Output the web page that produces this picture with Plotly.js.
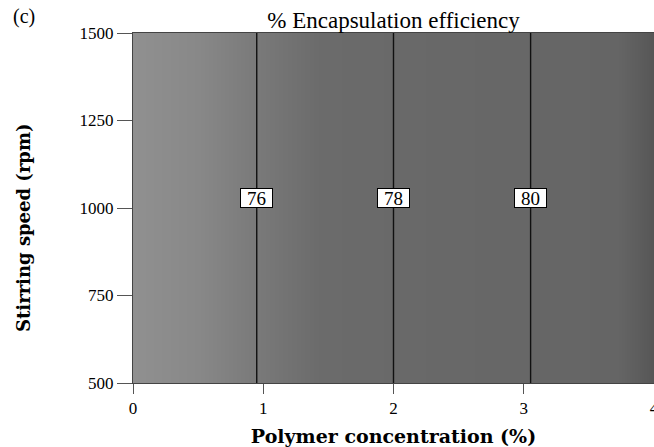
<!DOCTYPE html>
<html>
<head>
<meta charset="utf-8">
<script src="https://cdn.plot.ly/plotly-3.0.1.min.js"></script>
<style>html,body{margin:0;padding:0;background:#fff;}#chart{width:654px;height:447px;}</style>
</head>
<body>
<div id="chart"></div>
<script>
// Polymer concentration (%) grid
const polymerConc = [0, 0.5, 1, 1.5, 2, 2.5, 3, 3.5, 4];
// Stirring speed (rpm) grid
const stirringSpeed = [500, 750, 1000, 1250, 1500];
// % Encapsulation efficiency along polymer concentration (no dependence on stirring speed)
const efficiency = [74.2, 75.1, 76.1, 77.05, 78.0, 78.95, 79.9, 80.85, 81.8];
// Contour levels shown
const levels = [76, 78, 80];
const labelSpeed = 1030;
const xTicks = [0, 1, 2, 3, 4];
const yTicks = [500, 750, 1000, 1250, 1500];

const z = stirringSpeed.map(() => efficiency.slice());

function crossing(level) {
  for (let i = 0; i < efficiency.length - 1; i++) {
    const a = efficiency[i], b = efficiency[i + 1];
    if ((a - level) * (b - level) <= 0) {
      return polymerConc[i] + (level - a) / (b - a) * (polymerConc[i + 1] - polymerConc[i]);
    }
  }
  return null;
}

const traces = [
  {
    type: 'heatmap', x: polymerConc, y: stirringSpeed, z: z, zsmooth: 'best',
    zmin: 74.2, zmax: 81.8, showscale: false, hoverinfo: 'skip',
    colorscale: [
      [0, '#909090'], [0.12, '#888888'], [0.25, '#787878'], [0.36, '#6b6b6b'],
      [0.6, '#686868'], [0.93, '#656565'], [0.97, '#5d5d5d'], [1, '#565656']
    ]
  },
  {
    type: 'contour', x: polymerConc, y: stirringSpeed, z: z, showscale: false,
    autocontour: false, contours: {start: 76, end: 80, size: 2, coloring: 'lines'},
    colorscale: [[0, '#111'], [1, '#111']], line: {width: 1.4}, hoverinfo: 'skip'
  }
];

const serif = 'Liberation Serif';
const boldSerif = 'DejaVu Serif';
const PW = 654 - 133, PH = 383 - 33;
const annotations = levels.map(lv => ({
  x: crossing(lv), y: labelSpeed, xref: 'x', yref: 'y', text: String(lv), showarrow: false,
  bgcolor: '#ffffff', bordercolor: '#000', borderwidth: 1, borderpad: 0, width: 31, height: 18,
  font: {family: serif, size: 19, color: '#000'}
}));
annotations.push({
  x: (11 - 133) / PW, y: 1 + (33 - 17) / PH, xref: 'paper', yref: 'paper',
  xanchor: 'left', yanchor: 'middle', showarrow: false,
  text: '(c)', font: {family: serif, size: 20, color: '#000'}
});
annotations.push({
  x: (23 - 133) / PW, y: (383 - 228) / PH, xref: 'paper', yref: 'paper',
  xanchor: 'center', yanchor: 'middle', showarrow: false, textangle: -90,
  text: '<b>Stirring speed (rpm)</b>', font: {family: boldSerif, size: 18, color: '#000'}
});

const layout = {
  width: 654, height: 447,
  margin: {l: 133, r: 0, t: 33, b: 64},
  paper_bgcolor: '#fff', plot_bgcolor: '#fff',
  font: {family: serif, color: '#000'},
  title: {text: '% Encapsulation efficiency', xref: 'paper', x: 0.5, xanchor: 'center',
          yref: 'container', y: 1 - 20 / 447, yanchor: 'middle',
          font: {family: serif, size: 23, color: '#000'}},
  xaxis: {
    range: [0, 4], tickvals: xTicks, ticktext: xTicks.map(String),
    ticks: 'outside', ticklen: 10, tickcolor: '#555', tickwidth: 1, ticklabeloverflow: 'allow',
    showline: true, linecolor: '#444', linewidth: 1, mirror: true, showgrid: false, zeroline: false,
    tickfont: {family: serif, size: 17, color: '#000'},
    title: {text: '<b>Polymer concentration (%)</b>', standoff: 15,
            font: {family: boldSerif, size: 19, color: '#000'}}
  },
  yaxis: {
    range: [500, 1500], tickvals: yTicks, ticktext: yTicks.map(String),
    ticks: 'outside', ticklen: 15, tickcolor: '#555', tickwidth: 1,
    showline: true, linecolor: '#444', linewidth: 1, mirror: true, showgrid: false, zeroline: false,
    tickfont: {family: serif, size: 17, color: '#000'}
  },
  annotations: annotations,
  showlegend: false
};

Plotly.newPlot('chart', traces, layout, {displayModeBar: false, staticPlot: true});
</script>
</body>
</html>
